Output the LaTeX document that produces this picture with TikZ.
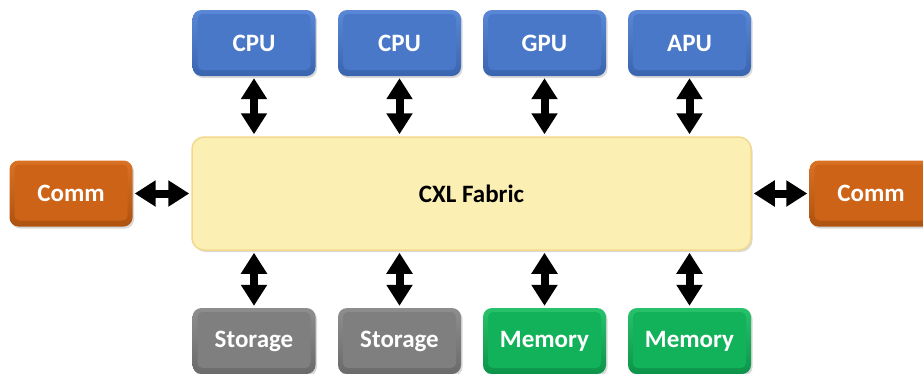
\documentclass[tikz,border=0pt]{standalone}
\usepackage{fontspec}
\setmainfont{Carlito}
\usetikzlibrary{arrows.meta,shadows}

% palette
\definecolor{blueTop}{HTML}{5A88D6}
\definecolor{blueMid}{HTML}{4A78C8}
\definecolor{blueBot}{HTML}{3A64AE}
\definecolor{orTop}{HTML}{DA7224}
\definecolor{orMid}{HTML}{CD6316}
\definecolor{orBot}{HTML}{AE5210}
\definecolor{grTop}{HTML}{8E8E8E}
\definecolor{grMid}{HTML}{7F7F7F}
\definecolor{grBot}{HTML}{6A6A6A}
\definecolor{gnTop}{HTML}{28C26C}
\definecolor{gnMid}{HTML}{12B25A}
\definecolor{gnBot}{HTML}{0C9449}
\definecolor{fabFill}{HTML}{FCEFB4}
\definecolor{fabEdge}{HTML}{F2D98C}

\tikzset{
  unit/.style n args={3}{
    rectangle, rounded corners=9pt,
    minimum width=123pt, minimum height=66pt,
    top color=#1, bottom color=#3,
    drop shadow={opacity=0.3, shadow xshift=1.5pt, shadow yshift=-2pt},
    text=white, font=\bfseries\fontsize{25}{28}\selectfont,
    path picture={
      \fill[#2, rounded corners=5pt]
        ([shift={(5pt,-4pt)}]path picture bounding box.north west)
        rectangle
        ([shift={(-5pt,6pt)}]path picture bounding box.south east);
    }
  },
  cpu/.style={unit={blueTop}{blueMid}{blueBot}},
  comm/.style={unit={orTop}{orMid}{orBot}},
  disk/.style={unit={grTop}{grMid}{grBot}},
  mem/.style={unit={gnTop}{gnMid}{gnBot}},
  fabric/.style={
    rectangle, rounded corners=12pt,
    minimum width=559pt, minimum height=113pt,
    fill=fabFill, draw=fabEdge, line width=1.5pt,
    drop shadow={opacity=0.3, shadow xshift=1.5pt, shadow yshift=-2pt},
    font=\bfseries\fontsize{25}{28}\selectfont
  },
  link/.style={
    line width=8pt,
    {Triangle[length=21pt,width=25pt]}-{Triangle[length=21pt,width=25pt]},
    shorten <=2pt, shorten >=2pt
  }
}

\begin{document}
\begin{tikzpicture}[x=1pt,y=-1pt]
  \useasboundingbox (0,0) rectangle (923,373);

  % central interconnect
  \node[fabric] (fab) at (471.5,193.5) {CXL Fabric};

  % compute units above
  \node[cpu] (cpu1) at (254,43) {CPU};
  \node[cpu] (cpu2) at (399.5,43) {CPU};
  \node[cpu] (gpu)  at (544.5,43) {GPU};
  \node[cpu] (apu)  at (689.5,43) {APU};

  % communication ports at the sides
  \node[comm] (commL) at (71,193.5) {Comm};
  \node[comm] (commR) at (871,193.5) {Comm};

  % storage and memory below
  \node[disk] (sto1) at (254,341) {Storage};
  \node[disk] (sto2) at (399.5,341) {Storage};
  \node[mem]  (mem1) at (544.5,341) {Memory};
  \node[mem]  (mem2) at (689.5,341) {Memory};

  % links to the fabric
  \foreach \n in {cpu1,cpu2,gpu,apu}
    \draw[link] (\n.south) -- (\n.south |- fab.north);
  \foreach \n in {sto1,sto2,mem1,mem2}
    \draw[link] (\n.north) -- (\n.north |- fab.south);
  \draw[link] (commL.east) -- (fab.west);
  \draw[link] (fab.east) -- (commR.west);
\end{tikzpicture}
\end{document}
